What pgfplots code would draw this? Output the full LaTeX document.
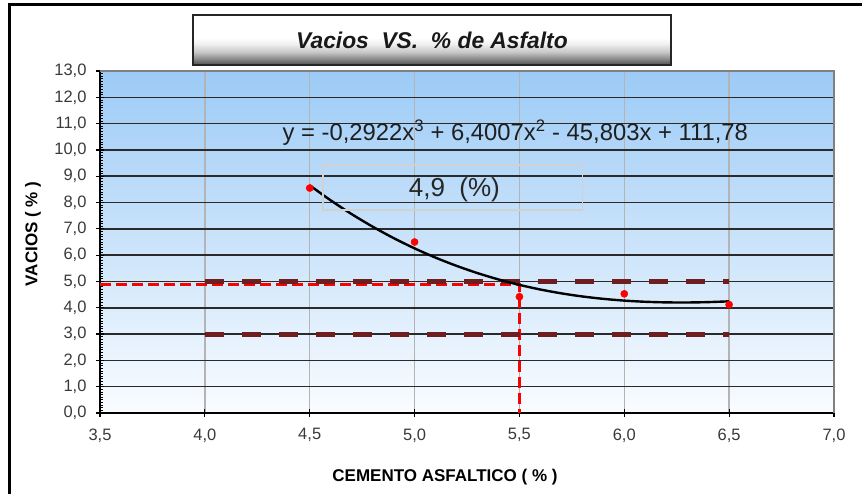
\documentclass[border=0pt]{standalone}
\usepackage{pgfplots}
\pgfplotsset{compat=1.18}
\usepackage{fontspec}
\setmainfont{Liberation Sans}

\definecolor{skytop}{HTML}{9CCBF6}
\definecolor{skybottom}{HTML}{FAFCFF}
\definecolor{maroonline}{HTML}{6E1E1E}
\definecolor{ticktext}{HTML}{3A3A3A}
\definecolor{vgrid}{HTML}{B4B4B4}
\definecolor{hgrid}{HTML}{2A2A2A}

% white top, darkening towards the bottom edge of the title box
\pgfdeclareverticalshading{titleshade}{100bp}{%
  color(0bp)=(black!70); color(25bp)=(black!70); color(30bp)=(black!50);
  color(38bp)=(black!22); color(46bp)=(black!6); color(52bp)=(white);
  color(75bp)=(white); color(100bp)=(white)}

% measured void content (%) against asphalt cement content (%)
\pgfplotstableread{
x    y
4.5  8.55
5.0  6.50
5.5  4.42
6.0  4.53
6.5  4.12
}\vacios

% cubic trend line y = -0.2922x^3 + 6.4007x^2 - 45.803x + 111.78, tabulated
\pgfplotstableread{
x    y
4.5  8.654
4.6  8.083
4.7  7.560
4.8  7.083
4.9  6.649
5.0  6.258
5.1  5.906
5.2  5.594
5.3  5.318
5.4  5.077
5.5  4.870
5.6  4.694
5.7  4.548
5.8  4.430
5.9  4.339
6.0  4.272
6.1  4.228
6.2  4.205
6.3  4.201
6.4  4.215
6.5  4.245
}\tendencia

\begin{document}
\begin{tikzpicture}
\useasboundingbox (-100pt,-80pt) rectangle (762pt,413pt);

% outer frame
\draw[line width=3pt] (-90pt,-85pt) -- (-90pt,408pt) -- (765pt,408pt);

% title box
\shade[shading=titleshade] (93pt,348pt) rectangle (571pt,398pt);
\draw[black!85, line width=1.6pt] (93pt,348pt) rectangle (571pt,398pt);
\node[font=\fontsize{22.8}{22.8}\selectfont\bfseries\itshape, text=black!90]
  at (332pt,373pt) {Vacios\ \ VS.\ \ \% de Asfalto};

\begin{axis}[
  at={(0pt,0pt)}, anchor=south west,
  scale only axis, width=734pt, height=342pt,
  xmin=3.5, xmax=7, ymin=0, ymax=13,
  xtick={3.5,4.0,4.5,5.0,5.5,6.0,6.5,7.0},
  ytick={0,1,2,3,4,5,6,7,8,9,10,11,12,13},
  minor y tick num=9,
  axis x line*=bottom, axis y line*=left,
  axis line style={black, line width=1.4pt, -},
  tick align=center,
  major tick length=8pt, minor tick length=3pt,
  tick style={black, line width=1.2pt},
  minor y tick style={black, line width=0.8pt, xshift=1.5pt},
  xmajorgrids, ymajorgrids,
  x grid style={vgrid, line width=1.3pt},
  y grid style={hgrid, line width=1.6pt},
  axis background/.style={shade, top color=skytop, bottom color=skybottom},
  /pgf/number format/.cd, use comma, fixed, fixed zerofill, precision=1,
    assume math mode=true,
  /pgfplots/.cd,
  ticklabel style={font=\fontsize{16.5}{16.5}\selectfont, text=ticktext},
  yticklabel style={xshift=-6pt},
  xticklabel style={yshift=-8pt},
  clip=false,
]

% frame of the plot area on the top and right sides
\draw[black!50, line width=1.5pt] (axis cs:3.5,13) -- (axis cs:7,13) -- (axis cs:7,0);

% design void content at 5.5 %
\addplot[red, line width=3pt, dash pattern=on 11pt off 5pt] coordinates {(3.5,4.9) (5.5,4.9) (5.5,0)};

% specification limits 3 % and 5 %
\addplot[maroonline, line width=5pt, dash pattern=on 19pt off 18pt] coordinates {(4,5) (6.5,5)};
\addplot[maroonline, line width=5pt, dash pattern=on 19pt off 18pt] coordinates {(4,3) (6.5,3)};

% trend line
\addplot[black, line width=2.4pt, smooth] table[x=x, y=y] {\tendencia};

% measured points
\addplot[only marks, mark=*, mark size=3.6pt, mark options={fill=red, draw=red}] table[x=x, y=y] {\vacios};

% equation and result box
\node[font=\fontsize{23.8}{23.8}\selectfont, text=black!88] at (axis cs:5.48,10.65)
  {y = -0,2922x\textsuperscript{3} + 6,4007x\textsuperscript{2} - 45,803x + 111,78};
\draw[black!18, line width=1.2pt] (axis cs:4.563,7.72) rectangle (axis cs:5.799,9.43);
\node[font=\fontsize{26}{26}\selectfont, text=black!85] at (axis cs:5.19,8.48) {4,9\ \ (\%)};
\end{axis}

% axis titles
\node[font=\fontsize{17}{17}\selectfont\bfseries, rotate=90] at (-67pt,179pt) {VACIOS ( \% )};
\node[font=\fontsize{17}{17}\selectfont\bfseries] at (345pt,-64pt) {CEMENTO ASFALTICO ( \% )};
\end{tikzpicture}
\end{document}
